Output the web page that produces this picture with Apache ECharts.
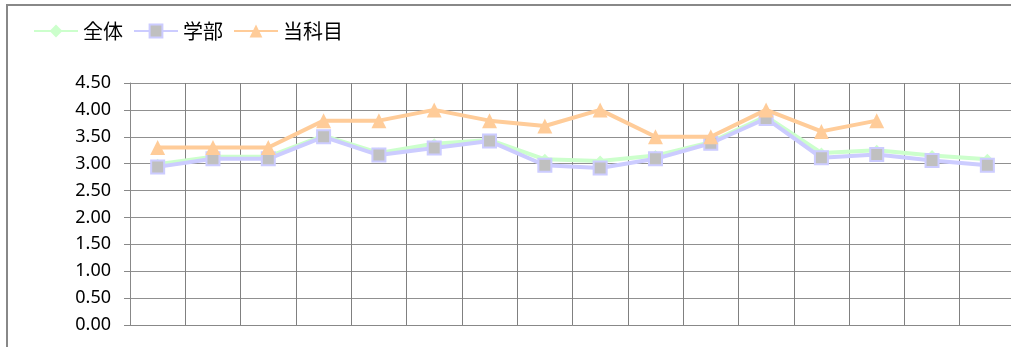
<!DOCTYPE html>
<html>
<head>
<meta charset="utf-8">
<script src="https://cdn.jsdelivr.net/npm/echarts@6/dist/echarts.min.js"></script>
<style>
html,body{margin:0;padding:0;background:#fff;overflow:hidden;}
#c{width:1015px;height:347px;}
</style>
</head>
<body>
<div id="c"></div>
<script>
const categories = ['1','2','3','4','5','6','7','8','9','10','11','12','13','14','15','16'];
const zentai = [2.99,3.13,3.13,3.52,3.20,3.37,3.44,3.08,3.05,3.15,3.40,3.88,3.20,3.25,3.15,3.08];
const gakubu = [2.94,3.09,3.09,3.50,3.16,3.29,3.42,2.97,2.92,3.09,3.38,3.84,3.11,3.17,3.06,2.97];
const touka  = [3.3,3.3,3.3,3.8,3.8,4.0,3.8,3.7,4.0,3.5,3.5,4.0,3.6,3.8,null,null];
const seriesNames = ['全体','学部','当科目'];
const yTicks = {min:0, max:4.5, interval:0.5};

const chart = echarts.init(document.getElementById('c'), null, {renderer:'canvas'});
const font = '"Noto Sans CJK JP","Noto Sans",sans-serif';
chart.setOption({
  animation:false,
  graphic:[{type:'polyline', shape:{points:[[7,400],[7,5],[1100,5]]}, style:{fill:'none', stroke:'#888888', lineWidth:2}, silent:true, z:-1}],
  legend:{
    left:28, top:16, itemWidth:44, itemHeight:16, itemGap:10,
    textStyle:{fontSize:20, color:'#000', fontFamily:font},
    data:seriesNames
  },
  grid:{left:130, right:0, top:83, bottom:22, containLabel:false},
  xAxis:{
    type:'category', data:categories, boundaryGap:true,
    axisLine:{show:true, lineStyle:{color:'#888888', width:1}},
    axisTick:{show:false},
    axisLabel:{show:false},
    splitLine:{show:true, interval:0, lineStyle:{color:'#808080', width:1}}
  },
  yAxis:{
    type:'value', min:yTicks.min, max:yTicks.max, interval:yTicks.interval,
    axisLine:{show:true, lineStyle:{color:'#888888', width:1}},
    axisTick:{show:true, inside:false, length:6, lineStyle:{color:'#888888'}},
    axisLabel:{fontSize:18, color:'#000', fontFamily:'"Noto Sans",sans-serif', margin:19, formatter:v=>v.toFixed(2)},
    splitLine:{show:true, lineStyle:{color:'#909090', width:1}}
  },
  series:[
    {name:seriesNames[0], type:'line', data:zentai, symbol:'diamond', symbolSize:11,
     lineStyle:{color:'#CCFFCC', width:4}, itemStyle:{color:'#CCFFCC'}, z:2},
    {name:seriesNames[1], type:'line', data:gakubu, symbol:'rect', symbolSize:13,
     lineStyle:{color:'#CCCCFF', width:4}, itemStyle:{color:'#C0C0C0', borderColor:'#CCCCFF', borderWidth:2}, z:3},
    {name:seriesNames[2], type:'line', data:touka, symbol:'triangle', symbolSize:15, connectNulls:false,
     lineStyle:{color:'#FFCC99', width:4}, itemStyle:{color:'#FFCC99'}, z:4}
  ]
});
</script>
</body>
</html>
